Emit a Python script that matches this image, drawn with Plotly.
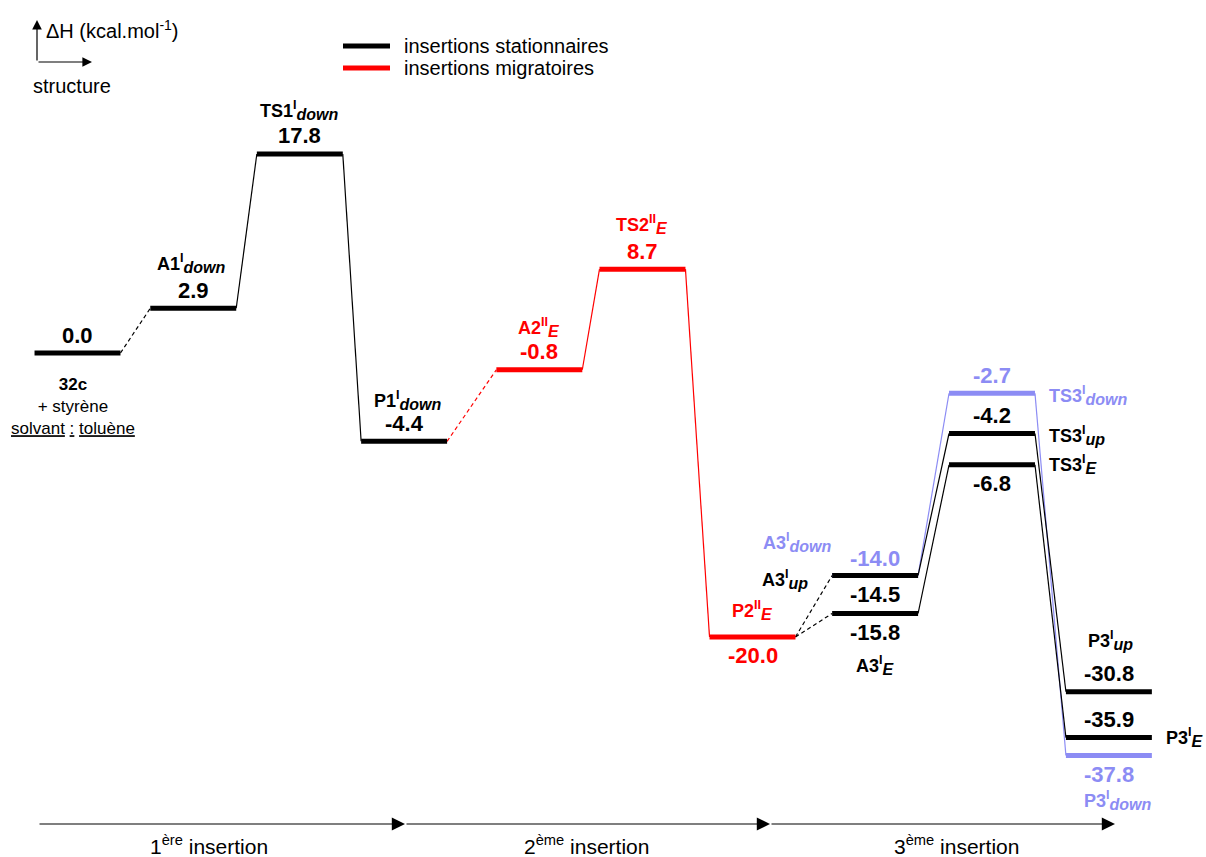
import plotly.graph_objects as go

# energy profile of three successive styrene insertions
# levels : id, position along the reaction coordinate, enthalpy (kcal/mol),
# drawn height on the (schematic, non linear) diagram, pathway
level_id = ["R0", "A1", "TS1", "P1", "A2", "TS2", "P2",
            "A3down", "A3up", "A3E", "TS3down", "TS3up", "TS3E",
            "P3up", "P3E", "P3down"]
coord = [0.0, 1.01, 1.94, 2.85, 4.03, 4.93, 5.89,
         6.96, 6.96, 6.96, 7.98, 7.98, 7.98, 9.0, 9.0, 9.0]
energy = [0.0, 2.9, 17.8, -4.4, -0.8, 8.7, -20.0,
          -14.0, -14.5, -15.8, -2.7, -4.2, -6.8,
          -30.8, -35.9, -37.8]
drawn = [0.0, 4.0, 17.8, -7.9, -1.5, 7.5, -25.4,
         -19.9, -19.9, -23.3, -3.6, -7.2, -10.0,
         -30.3, -34.4, -36.0]
pathway = ["stat", "stat", "stat", "stat", "migr", "migr", "migr",
           "down", "stat", "stat", "down", "stat", "stat",
           "stat", "stat", "down"]
# species names : (base, superscript, subscript)
names = [None, ("A1", "I", "down"), ("TS1", "I", "down"), ("P1", "I", "down"),
         ("A2", "II", "E"), ("TS2", "II", "E"), ("P2", "II", "E"),
         ("A3", "I", "down"), ("A3", "I", "up"), ("A3", "I", "E"),
         ("TS3", "I", "down"), ("TS3", "I", "up"), ("TS3", "I", "E"),
         ("P3", "I", "up"), ("P3", "I", "E"), ("P3", "I", "down")]

# connections between levels (from, to, dashed)
links = [("R0", "A1", True), ("A1", "TS1", False), ("TS1", "P1", False),
         ("P1", "A2", True), ("A2", "TS2", False), ("TS2", "P2", False),
         ("P2", "A3up", True), ("P2", "A3E", True),
         ("A3down", "TS3down", False), ("A3up", "TS3up", False),
         ("A3E", "TS3E", False), ("TS3down", "P3down", False),
         ("TS3up", "P3up", False), ("TS3E", "P3E", False)]

insertions = ["1<sup>ère</sup> insertion", "2<sup>ème</sup> insertion",
              "3<sup>ème</sup> insertion"]
legend_names = [("stat", "insertions stationnaires"), ("migr", "insertions migratoires")]

colors = {"stat": "black", "migr": "#ff0000", "down": "#8c8cf4"}
hw = 0.375  # half width of a level
idx = {k: i for i, k in enumerate(level_id)}


def fmt_name(n):
    base, sup, sub = n
    return ("<b>%s<sup>%s</sup><sub><span style='font-size:16px'><i>%s</i></span></sub></b>"
            % (base, sup, sub))


fig = go.Figure()

# connectors first (thin)
for a, b, dashed in links:
    i, j = idx[a], idx[b]
    fig.add_trace(go.Scatter(x=[coord[i] + hw, coord[j] - hw], y=[drawn[i], drawn[j]],
                             mode="lines", showlegend=False, hoverinfo="skip",
                             line=dict(color=colors[pathway[j]], width=1.2,
                                       dash="4px,3px" if dashed else "solid")))

# levels (thick), blue ones below the black ones
for pw in ["down", "migr", "stat"]:
    xs, ys = [], []
    for i in range(len(level_id)):
        if pathway[i] == pw:
            xs += [coord[i] - hw, coord[i] + hw, None]
            ys += [drawn[i], drawn[i], None]
    fig.add_trace(go.Scatter(x=xs, y=ys, mode="lines", showlegend=False,
                             line=dict(color=colors[pw], width=5)))

# label placement (pixel offsets from the level centre)
below = {"P2", "A3up", "A3E", "TS3E", "P3down"}
value_shift = {"A3down": 17}
name_place = {
    "A1": (-2, 45, "center"), "TS1": (0, 43, "center"), "P1": (4, 41, "center"),
    "A2": (0, 42, "center"), "TS2": (0, 45, "center"), "P2": (0, 26, "center"),
    "A3down": (-114, 33, "left"), "A3up": (-115, -4, "left"),
    "A3E": (0, -52, "center"),
    "TS3down": (55, -2, "left"), "TS3up": (55, -2, "left"), "TS3E": (55, 0, "left"),
    "P3up": (2, 51, "center"), "P3E": (55, 0, "left"), "P3down": (9, -45, "center"),
}

for i, k in enumerate(level_id):
    c = colors[pathway[i]]
    ys = -19 if k in below else value_shift.get(k, 18)
    fig.add_annotation(x=coord[i], y=drawn[i], text="<b>%.1f</b>" % energy[i],
                       showarrow=False, yshift=ys, xanchor="center", yanchor="middle",
                       font=dict(size=22, color=c))
    if k in name_place:
        dx, dy, anchor = name_place[k]
        fig.add_annotation(x=coord[i], y=drawn[i], text=fmt_name(names[i]),
                           showarrow=False, xshift=dx, yshift=dy, xanchor=anchor,
                           yanchor="middle", font=dict(size=18, color=c))

fig.add_annotation(x=coord[0], y=drawn[0], xshift=-5, yshift=-20, yanchor="top",
                   xanchor="center", showarrow=False,
                   text="<b>32c</b><br>+ styrène<br><u>solvant</u> <u>:</u> <u>toluène</u>",
                   font=dict(size=17, color="black"))

# legend key
for n, (pw, label) in enumerate(legend_names):
    yp = 1 - (46 + 22 * n) / 857
    fig.add_shape(type="line", xref="paper", yref="paper", x0=343 / 1206, x1=390 / 1206,
                  y0=yp, y1=yp, line=dict(color=colors[pw], width=5))
    fig.add_annotation(x=402 / 1206, y=yp, xref="paper", yref="paper", xanchor="left",
                       yanchor="middle", text=label, showarrow=False,
                       font=dict(size=20, color="black"))

# reaction coordinate arrows along the bottom
arrow_px = [38, 405, 770, 1115]
label_px = [209, 586, 956]
for n in range(3):
    fig.add_annotation(x=arrow_px[n + 1] / 1206, y=1 - 824 / 857, xref="paper", yref="paper",
                       ax=-(arrow_px[n + 1] - arrow_px[n]), ay=0, text="",
                       showarrow=True, arrowhead=2, arrowsize=2.4, arrowwidth=1.1,
                       arrowcolor="black")
    fig.add_annotation(x=label_px[n] / 1206, y=1 - 845 / 857, xref="paper", yref="paper",
                       xanchor="center", yanchor="middle",
                       text=insertions[n], showarrow=False,
                       font=dict(size=21, color="black"))

# small axes key, top left
fig.add_annotation(x=37 / 1206, y=1 - 20 / 857, xref="paper", yref="paper", ax=0, ay=42,
                   text="", showarrow=True, arrowhead=2, arrowsize=1.6, arrowwidth=1.2,
                   arrowcolor="black")
fig.add_annotation(x=92 / 1206, y=1 - 62 / 857, xref="paper", yref="paper", ax=-55, ay=0,
                   text="", showarrow=True, arrowhead=2, arrowsize=1.6, arrowwidth=1.2,
                   arrowcolor="black")
fig.add_annotation(x=44 / 1206, y=1 - 29 / 857, xref="paper", yref="paper", xanchor="left",
                   yanchor="middle", text="ΔH (kcal.mol<sup>-1</sup>)", showarrow=False,
                   font=dict(size=20, color="black"))
fig.add_annotation(x=31 / 1206, y=1 - 86 / 857, xref="paper", yref="paper", xanchor="left",
                   yanchor="middle", text="structure", showarrow=False,
                   font=dict(size=20, color="black"))

fig.update_layout(
    width=1206, height=857, margin=dict(l=0, r=0, t=0, b=0),
    paper_bgcolor="white", plot_bgcolor="white", showlegend=False,
    font=dict(family="Liberation Sans, Arial, sans-serif"),
    xaxis=dict(range=[-0.6763, 9.8473], visible=False),
    yaxis=dict(range=[-45.08, 31.574], visible=False),
)

fig.write_html("out.html", config={"displayModeBar": False},
               post_script="document.body.style.margin = '0';")
